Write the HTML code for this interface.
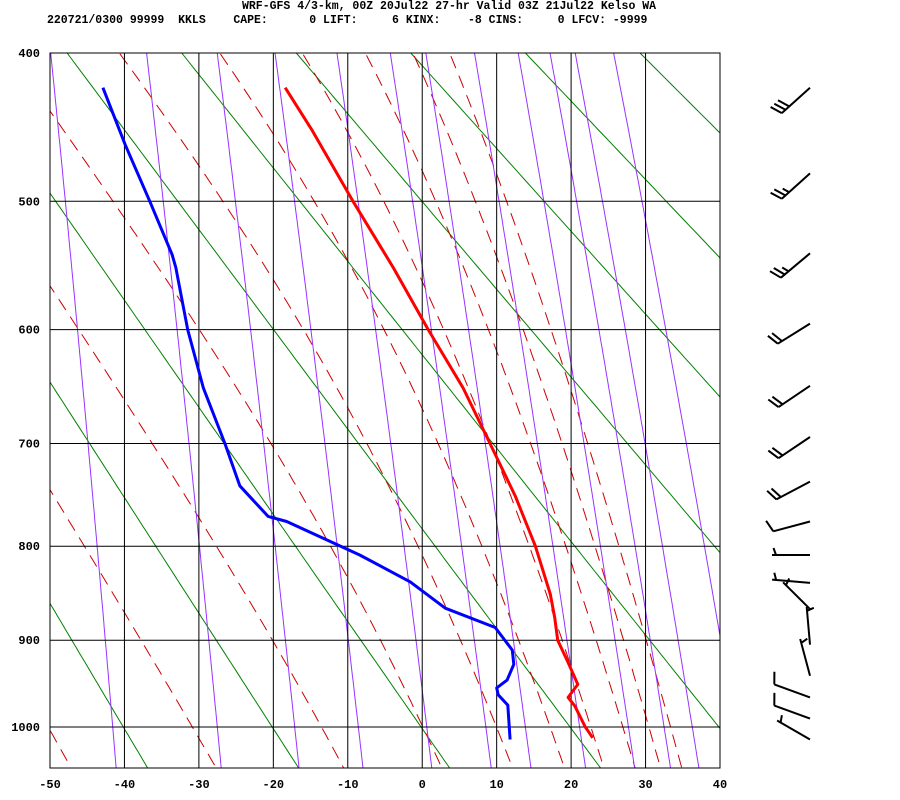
<!DOCTYPE html>
<html><head><meta charset="utf-8"><style>
html,body{margin:0;padding:0;background:#fff;}
#wrap{position:relative;width:900px;height:800px;overflow:hidden;}
.t{position:absolute;font-family:"Liberation Mono",monospace;font-weight:bold;font-size:11.5px;white-space:pre;color:#000;line-height:13px;}
</style></head><body>
<div id="wrap">
<div class="t" style="left:242px;top:0px">WRF-GFS 4/3-km, 00Z 20Jul22 27-hr Valid 03Z 21Jul22 Kelso WA</div>
<div class="t" style="left:47px;top:14px">220721/0300 99999  KKLS    CAPE:      0 LIFT:     6 KINX:    -8 CINS:     0 LFCV: -9999</div>
<svg id="svg" width="900" height="800" style="position:absolute;left:0;top:0">
<defs><clipPath id="clip"><rect x="50" y="53" width="670" height="715"/></clipPath></defs>
<g id="bg" clip-path="url(#clip)"></g><g id="grid"></g><g id="prof" clip-path="url(#clip)"></g><g id="barbs"></g><g id="labels"></g>
</svg>
</div>
<script>
// ---- data ----
const tempP = [422,450,500,550,600,650,700,750,800,850,875,900,925,950,965,975,1000,1013];
const tempT = [-18.4,-14.8,-9.3,-3.9,0.8,5.5,9.1,12.5,15.2,17.2,17.8,18.2,19.6,20.9,19.6,20.5,21.9,22.9];
const dewP = [422,460,500,540,550,600,650,700,740,770,775,809,837,865,886,911,927,945,954,962,974,1015];
const dewT = [-42.9,-39.9,-36.6,-33.6,-33.1,-31.5,-29.4,-26.5,-24.5,-20.7,-18.2,-8.4,-1.6,3.1,9.8,12.1,12.3,11.4,10.0,10.2,11.5,11.8];
const barbP = [422,480,539,595,648,694,736,775,809,838,866,905,940,965,990,1015];
const barbDir = [228,228,230,238,236,236,242,255,270,275,315,355,345,290,290,300];
const barbSpd = [30,25,25,20,20,20,20,10,5,5,5,5,5,10,10,5];
const pTicks = [400,500,600,700,800,900,1000];
const tTicks = [-50,-40,-30,-20,-10,0,10,20,30,40];
const thetaLines = [233,253,273,293,313,333,353,373,393];
const thetaELines = [223,243,263,283,303,323,343,363,383,403];
const mixLines = [0.1,0.4,1,2,4,7,10,16,24,32,40,56];

// ---- axes ----
const K=0.286, P0=Math.pow(1000,K), PT=Math.pow(400,K);
function yP(p){return 727-(P0-Math.pow(p,K))/(P0-PT)*674;}
function xT(t){return 50+(t+50)*670/90;}
const NS="http://www.w3.org/2000/svg";
function mk(tag,attrs,parent){const e=document.createElementNS(NS,tag);for(const k in attrs)e.setAttribute(k,attrs[k]);parent.appendChild(e);return e;}
const bg=document.getElementById('bg'),grid=document.getElementById('grid'),prof=document.getElementById('prof'),barbs=document.getElementById('barbs'),labels=document.getElementById('labels');
const pLevels=[];for(let p=390;p<=1060;p+=5)pLevels.push(p);
function pathFrom(fn){let d='';pLevels.forEach((p,i)=>{const t=fn(p);d+=(i?'L':'M')+xT(t).toFixed(1)+','+yP(p).toFixed(1);});return d;}
function es(tc){return 6.112*Math.exp(17.67*tc/(tc+243.5));}
function thetaE(tk,p){const e=es(tk-273.15);const w=0.622*e/(p-e);return tk*Math.pow(1000/p,0.286)*Math.exp(2.5e6*w/(1004*tk));}

// dry adiabats
thetaLines.forEach(th=>{
  const el=mk('path',{d:pathFrom(p=>th*Math.pow(p/1000,0.286)-273.15),fill:'none',stroke:'#008000','stroke-width':1},bg);
  
  
});
// moist adiabats
thetaELines.forEach(te=>{
  const el=mk('path',{d:pathFrom(p=>{let lo=150,hi=330;for(let i=0;i<40;i++){const m=(lo+hi)/2;if(thetaE(m,p)>te)hi=m;else lo=m;}return (lo+hi)/2-273.15;}),fill:'none',stroke:'#cc0000','stroke-width':1,'stroke-dasharray':'13,8'},bg);
  
  
});
// mixing ratio
mixLines.forEach(w=>{
  const el=mk('path',{d:pathFrom(p=>{const e=w*p/(622+w);const l=Math.log(e/6.112);return 243.5*l/(17.67-l);}),fill:'none',stroke:'#9933ff','stroke-width':1},bg);
  
  
});
// grid
pTicks.forEach(p=>{
  const l=mk('line',{x1:50,x2:720,y1:yP(p),y2:yP(p),stroke:'#000','stroke-width':1},grid);
  
  
  const t=mk('text',{x:40,y:yP(p)+4,'text-anchor':'end','font-family':'Liberation Mono, monospace','font-weight':'bold','font-size':'12'},labels);
  t.textContent=p;
  
  
});
tTicks.forEach(tt=>{
  const l=mk('line',{x1:xT(tt),x2:xT(tt),y1:53,y2:768,stroke:'#000','stroke-width':1},grid);
  
  
  const t=mk('text',{x:xT(tt),y:788,'text-anchor':'middle','font-family':'Liberation Mono, monospace','font-weight':'bold','font-size':'12'},labels);
  t.textContent=tt;
  
  
});
const fr=mk('rect',{x:50,y:53,width:670,height:715,fill:'none',stroke:'#000','stroke-width':1},grid);


// profiles
function prof_(P,T,col,name){
  const d=P.map((p,i)=>(i?'L':'M')+xT(T[i]).toFixed(1)+','+yP(p).toFixed(1)).join('');
  const el=mk('path',{d:d,fill:'none',stroke:col,'stroke-width':3,'stroke-linejoin':'round'},prof);
  
  
}
prof_(tempP,tempT,'#ff0000','temperature-profile');
prof_(dewP,dewT,'#0000ff','dewpoint-profile');
// wind barbs
barbP.forEach((p,i)=>{
  const d=barbDir[i]*Math.PI/180, L=38;
  const ux=Math.sin(d), uy=-Math.cos(d);
  const x0=810,y0=yP(p),x1=x0+ux*L,y1=y0+uy*L;
  let s='M'+x0+','+y0.toFixed(1)+'L'+x1.toFixed(1)+','+y1.toFixed(1);
  const bx=-uy+0.35*ux, by=ux+0.35*uy;
  let spd=barbSpd[i], pos=0;
  const full=Math.floor(spd/10), half=(spd%10)>=5;
  for(let k=0;k<full;k++){const sx=x1-ux*pos,sy=y1-uy*pos;s+='M'+sx.toFixed(1)+','+sy.toFixed(1)+'L'+(sx+bx*12).toFixed(1)+','+(sy+by*12).toFixed(1);pos+=5;}
  if(half){if(full===0)pos=4;const sx=x1-ux*pos,sy=y1-uy*pos;s+='M'+sx.toFixed(1)+','+sy.toFixed(1)+'L'+(sx+bx*7).toFixed(1)+','+(sy+by*7).toFixed(1);}
  const el=mk('path',{d:s,fill:'none',stroke:'#000','stroke-width':2},barbs);
  
  
});
</script>
</body></html>
